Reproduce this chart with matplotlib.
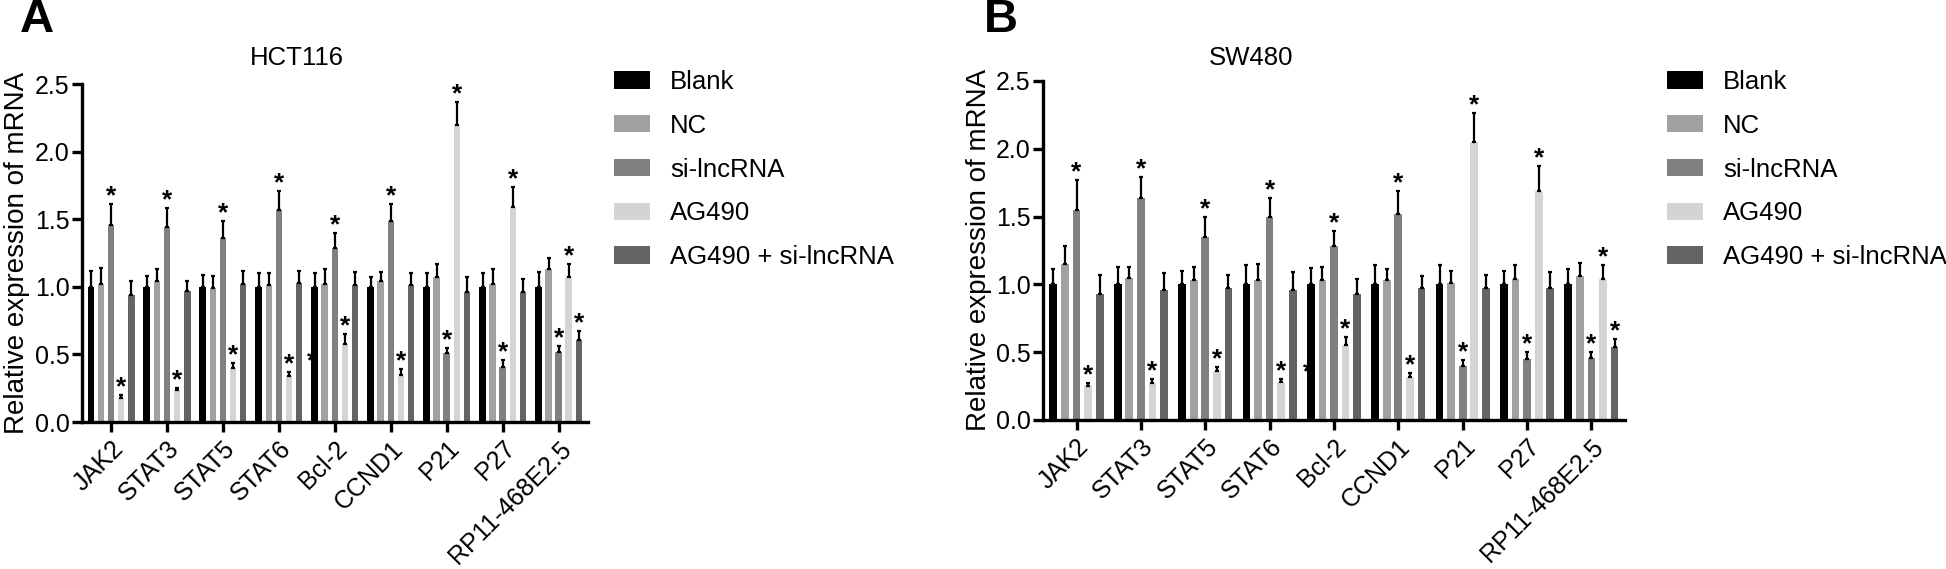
import numpy as np
import matplotlib
matplotlib.use('Agg')
import matplotlib.pyplot as plt

plt.rcParams['font.family'] = ['Liberation Sans', 'DejaVu Sans']

genes = ['JAK2', 'STAT3', 'STAT5', 'STAT6', 'Bcl-2', 'CCND1', 'P21', 'P27', 'RP11-468E2.5']
groups = ['Blank', 'NC', 'si-lncRNA', 'AG490', 'AG490 + si-lncRNA']
colors = ['#000000', '#a0a0a0', '#808080', '#d4d4d4', '#646464']

# HCT116 means / upper error
hct_blank = [1.00, 1.00, 1.00, 1.00, 1.00, 1.00, 1.00, 1.00, 1.00]
hct_nc = [1.02, 1.04, 0.99, 1.01, 1.02, 1.04, 1.07, 1.02, 1.13]
hct_si = [1.46, 1.44, 1.36, 1.57, 1.29, 1.49, 0.51, 0.41, 0.52]
hct_ag = [0.18, 0.24, 0.40, 0.34, 0.58, 0.35, 2.20, 1.59, 1.07]
hct_agsi = [0.94, 0.97, 1.02, 1.03, 1.01, 1.01, 0.96, 0.96, 0.61]

hct_blank_err = [0.12, 0.08, 0.09, 0.10, 0.10, 0.07, 0.10, 0.10, 0.11]
hct_nc_err = [0.12, 0.09, 0.09, 0.09, 0.11, 0.07, 0.10, 0.11, 0.08]
hct_si_err = [0.15, 0.14, 0.13, 0.14, 0.11, 0.12, 0.04, 0.05, 0.04]
hct_ag_err = [0.02, 0.01, 0.04, 0.03, 0.07, 0.04, 0.17, 0.15, 0.10]
hct_agsi_err = [0.10, 0.07, 0.10, 0.09, 0.10, 0.09, 0.11, 0.10, 0.06]

# SW480 means / upper error
sw_blank = [1.00, 1.00, 1.00, 1.00, 1.00, 1.00, 1.00, 1.00, 1.00]
sw_nc = [1.15, 1.05, 1.03, 1.03, 1.03, 1.03, 1.01, 1.04, 1.06]
sw_si = [1.55, 1.64, 1.35, 1.50, 1.28, 1.52, 0.40, 0.45, 0.46]
sw_ag = [0.25, 0.27, 0.36, 0.28, 0.55, 0.32, 2.05, 1.69, 1.04]
sw_agsi = [0.93, 0.96, 0.97, 0.96, 0.93, 0.97, 0.97, 0.97, 0.54]

sw_blank_err = [0.11, 0.13, 0.10, 0.14, 0.12, 0.14, 0.14, 0.10, 0.11]
sw_nc_err = [0.13, 0.08, 0.10, 0.12, 0.10, 0.08, 0.09, 0.10, 0.10]
sw_si_err = [0.22, 0.15, 0.15, 0.14, 0.11, 0.17, 0.04, 0.05, 0.04]
sw_ag_err = [0.02, 0.03, 0.03, 0.02, 0.06, 0.03, 0.21, 0.18, 0.10]
sw_agsi_err = [0.14, 0.12, 0.10, 0.13, 0.11, 0.09, 0.10, 0.12, 0.06]

# which bars carry a "*"
sig_si = [True] * 9
sig_ag = [True] * 9
sig_agsi = [False] * 8 + [True]


def draw_panel(ax, means, errs, sigs):
    x = np.arange(len(genes))
    pitch = 0.18
    for i in range(5):
        xs = x + (i - 2) * pitch
        m = np.array(means[i])
        e = np.array(errs[i])
        ax.bar(xs, m, width=0.12, color=colors[i], label=groups[i], zorder=2)
        ax.errorbar(xs, m, yerr=[np.zeros(len(m)), e], fmt='none', ecolor='k',
                    elinewidth=1.6, capsize=1.6, capthick=1.6, zorder=3)
        if sigs[i] is not None:
            for j in range(len(m)):
                if sigs[i][j]:
                    ax.annotate('*', (xs[j], m[j] + e[j]), xytext=(0, 5.5),
                                textcoords='offset points', ha='center',
                                va='center', fontsize=19, fontweight='bold', zorder=4)
    ax.set_xlim(-0.52, len(genes) - 0.48)
    ax.set_ylim(0, 2.5)
    ax.set_yticks([0, 0.5, 1.0, 1.5, 2.0, 2.5])
    ax.set_yticklabels(['0.0', '0.5', '1.0', '1.5', '2.0', '2.5'])
    ax.set_xticks(x)
    ax.set_xticklabels(genes, rotation=45, ha='right', rotation_mode='anchor')
    for s in ['top', 'right']:
        ax.spines[s].set_visible(False)
    for s in ['left', 'bottom']:
        ax.spines[s].set_linewidth(2.4)
    ax.tick_params(axis='both', width=2.4, length=7, labelsize=18)
    ax.tick_params(axis='y', pad=2)
    ax.set_ylabel('Relative expression of mRNA', fontsize=20, labelpad=3)


fig = plt.figure(figsize=(19.46, 5.69), dpi=100)

axA = fig.add_axes([0.0421, 0.2583, 0.260, 0.594])
draw_panel(axA,
           [hct_blank, hct_nc, hct_si, hct_ag, hct_agsi],
           [hct_blank_err, hct_nc_err, hct_si_err, hct_ag_err, hct_agsi_err],
           [None, None, sig_si, sig_ag, sig_agsi])
# stray asterisk partly hidden behind the Bcl-2 bars
axA.text(3.6, 0.45, '*', ha='center', va='center', fontsize=19, fontweight='bold', zorder=1)

axB = fig.add_axes([0.536, 0.2619, 0.299, 0.596])
draw_panel(axB,
           [sw_blank, sw_nc, sw_si, sw_ag, sw_agsi],
           [sw_blank_err, sw_nc_err, sw_si_err, sw_ag_err, sw_agsi_err],
           [None, None, sig_si, sig_ag, sig_agsi])
axB.text(3.6, 0.35, '*', ha='center', va='center', fontsize=19, fontweight='bold', zorder=1)

fig.text(297 / 1946, 1 - 58 / 569, 'HCT116', ha='center', va='center', fontsize=18.5)
fig.text(1251 / 1946, 1 - 58 / 569, 'SW480', ha='center', va='center', fontsize=18.5)
fig.text(20 / 1946, 1 - 20 / 569, 'A', ha='left', va='center', fontsize=34, fontweight='bold')
fig.text(984 / 1946, 1 - 20 / 569, 'B', ha='left', va='center', fontsize=34, fontweight='bold')

for ax, lx in [(axA, 614 / 1946), (axB, 1667 / 1946)]:
    ax.legend(loc='upper left', bbox_to_anchor=(lx, 1 - 70 / 569),
              bbox_transform=fig.transFigure, frameon=False, fontsize=18.5,
              handlelength=1.4, handleheight=0.66, handletextpad=0.78,
              labelspacing=0.77, borderaxespad=0, borderpad=0)

plt.savefig('out.png', dpi=100)
